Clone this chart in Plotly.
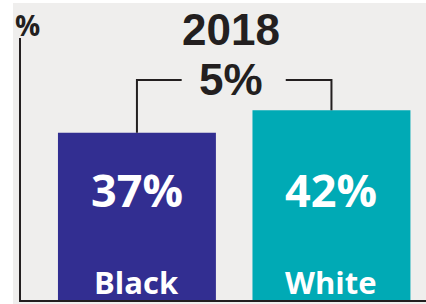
import plotly.graph_objects as go

categories = ["Black", "White"]
values = [37, 42]
year_label = "2018"
bar_colors = ["#322e91", "#00aab5"]

W, H = 426, 304
ml, mr, mt, mb = 21, 0, 38, 4
plot_w = W - ml - mr
plot_h = H - mt - mb

x_pos = [0, 1]
x_range = [-0.596, 1.486]
y_range = [0, 58]

FONT = "Open Sans"
HEAD_FONT = "Liberation Sans"
DARK = "#231f20"

fig = go.Figure()
fig.add_trace(go.Bar(
    x=x_pos, y=values, width=0.812,
    marker=dict(color=bar_colors, line=dict(width=0)),
    hoverinfo="skip",
))

px2x = lambda px: (px - ml) / plot_w
px2y = lambda py: (H - mb - py) / plot_h

# background panel (light gray) leaving thin white strips left/top
fig.add_shape(type="rect", xref="paper", yref="paper",
              x0=px2x(13), x1=px2x(W + 5), y0=px2y(3), y1=px2y(H + 5),
              fillcolor="#efeeed", line=dict(width=0), layer="below")

# bracket connecting the two bars
level = max(values) + 6.7
mid = (x_pos[0] + x_pos[1]) / 2
fig.add_shape(type="path", xref="x", yref="y",
              path=f"M {x_pos[0]},{values[0]} L {x_pos[0]},{level} L {mid - 0.27},{level}",
              line=dict(color=DARK, width=2))
fig.add_shape(type="path", xref="x", yref="y",
              path=f"M {mid + 0.265},{level} L {x_pos[1]},{level} L {x_pos[1]},{values[1]}",
              line=dict(color=DARK, width=2))

def ann(x, y, text, size, color, xref="x", yref="paper", family=FONT):
    fig.add_annotation(x=x, y=y, xref=xref, yref=yref, text=text, showarrow=False,
                       xanchor="center", yanchor="middle",
                       font=dict(family=family, size=size, color=color))

diff = values[1] - values[0]
ann(mid - 0.015, px2y(79), f"<b>{diff}%</b>", 44, DARK, family=HEAD_FONT)
ann(mid - 0.015, px2y(29), f"<b>{year_label}</b>", 44, DARK, family=HEAD_FONT)
ann(px2x(27.5), px2y(25), "<b>%</b>", 28, DARK, xref="paper")

for xp, v, c in zip(x_pos, values, categories):
    ann(xp, px2y(189), f"<b>{v}%</b>", 45, "white")
    ann(xp, px2y(282), f"<b>{c}</b>", 31, "white")

fig.update_layout(
    width=W, height=H,
    margin=dict(l=ml, r=mr, t=mt, b=mb, pad=0),
    paper_bgcolor="white", plot_bgcolor="#efeeed",
    showlegend=False,
    xaxis=dict(range=x_range, showgrid=False, zeroline=False, showticklabels=False,
               ticks="", showline=True, linecolor=DARK, linewidth=2, fixedrange=True),
    yaxis=dict(range=y_range, showgrid=False, zeroline=False, showticklabels=False,
               ticks="", showline=True, linecolor=DARK, linewidth=2, fixedrange=True),
)

fig.write_html("out.html", config={"displayModeBar": False},
               post_script="document.body.style.margin='0';document.body.style.overflow='hidden';")
